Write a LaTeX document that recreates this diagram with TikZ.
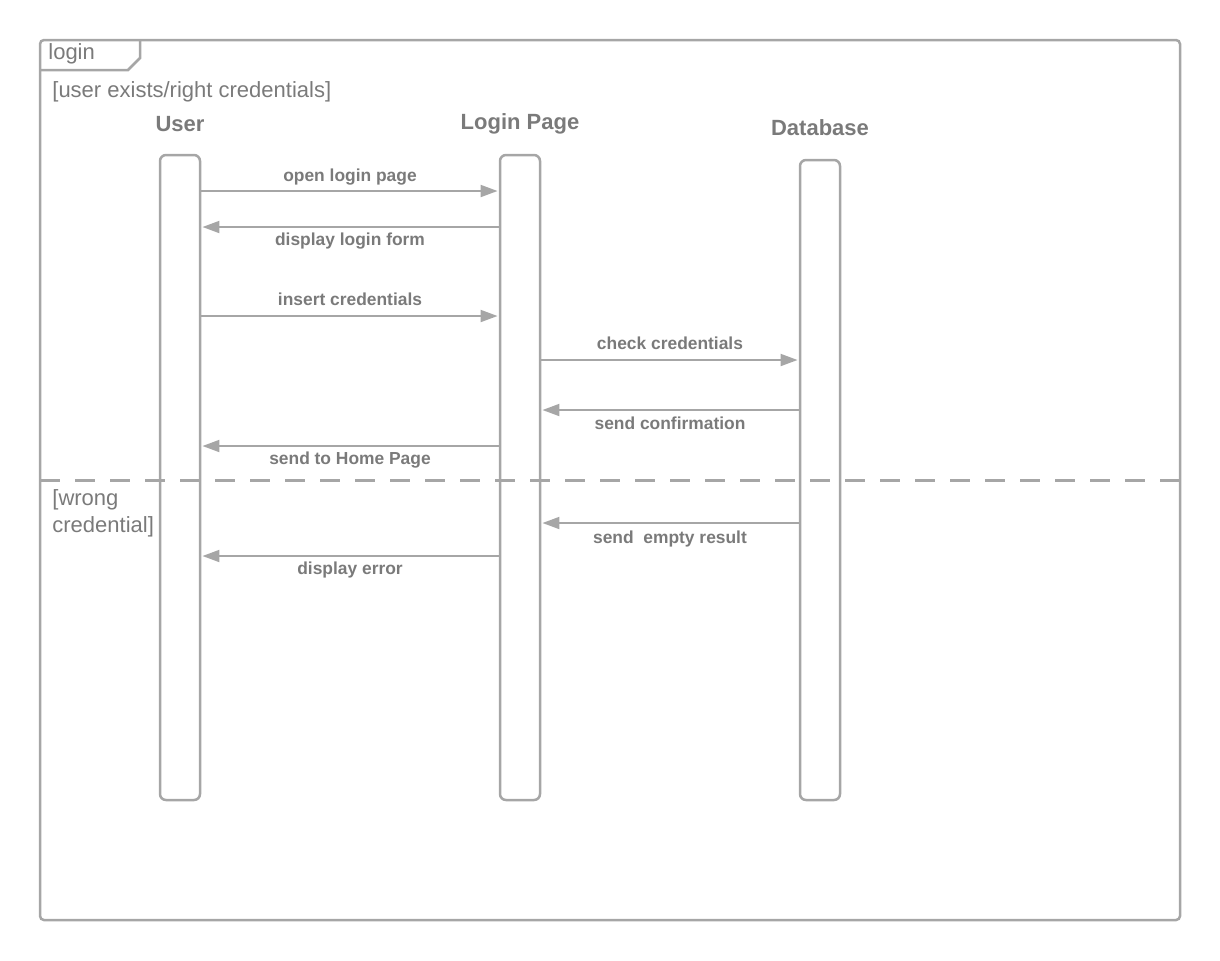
\documentclass[tikz,border=0pt]{standalone}
\usepackage{fontspec}
\setmainfont{Liberation Sans}
\usetikzlibrary{arrows.meta}
\definecolor{linegray}{HTML}{A6A6A6}
\definecolor{textgray}{HTML}{7A7A7A}
\begin{document}
\begin{tikzpicture}[x=0.5pt,y=-0.5pt,
    lifeline/.style={draw=linegray,line width=1.25pt,rounded corners=3pt,minimum width=20pt,inner sep=0pt},
    msg/.style={draw=linegray,line width=1pt,shorten >=0.6pt,-{Triangle[length=8.5pt,width=6pt]}},
    msglabel/.style={text=textgray,font=\fontsize{8.7}{10}\selectfont\bfseries},
    title/.style={text=textgray,font=\fontsize{11}{13}\selectfont\bfseries},
    guard/.style={text=textgray,font=\fontsize{11}{13.5}\selectfont,align=left,inner sep=0pt}]
  \useasboundingbox (0,0) rectangle (1220,960);
  % frame and its tab
  \draw[linegray,line width=1.25pt,rounded corners=2pt] (40,40) rectangle (1180,920);
  \draw[linegray,line width=1.25pt] (40,70) -- (128,70) -- (140,58) -- (140,40);
  \node[guard,anchor=west] (frame) at (48,54) {login};
  \node[guard,anchor=west] (guard1) at (52,92) {[user exists/right credentials]};
  \node[guard,anchor=north west] (guard2) at (52,489) {[wrong\\credential]};
  % participants
  \node[title] (usertitle) at (180,124) {User};
  \node[title] (pagetitle) at (520,124) {Login Page};
  \node[title] (dbtitle) at (820,128) {Database};
  \node[lifeline,minimum height=322.5pt] (user) at (180,477.5) {};
  \node[lifeline,minimum height=322.5pt] (page) at (520,477.5) {};
  \node[lifeline,minimum height=320pt] (db) at (820,480) {};
  % alternative separator
  \draw[linegray,line width=1.5pt,dash pattern=on 10pt off 7.5pt] (40,480) -- (1180,480);
  % messages
  \draw[msg] (user.east |- 0,191) -- (page.west |- 0,191) node[msglabel,midway,yshift=7pt] {open login page};
  \draw[msg] (page.west |- 0,227) -- (user.east |- 0,227) node[msglabel,midway,yshift=-7pt] {display login form};
  \draw[msg] (user.east |- 0,316) -- (page.west |- 0,316) node[msglabel,midway,yshift=8.5pt] {insert credentials};
  \draw[msg] (page.east |- 0,360) -- (db.west |- 0,360) node[msglabel,midway,yshift=8.5pt] {check credentials};
  \draw[msg] (db.west |- 0,410) -- (page.east |- 0,410) node[msglabel,midway,yshift=-6.5pt] {send confirmation};
  \draw[msg] (page.west |- 0,446) -- (user.east |- 0,446) node[msglabel,midway,yshift=-7pt] {send to Home Page};
  \draw[msg] (db.west |- 0,523) -- (page.east |- 0,523) node[msglabel,midway,yshift=-8pt] {send\ \ empty result};
  \draw[msg] (page.west |- 0,556) -- (user.east |- 0,556) node[msglabel,midway,yshift=-7pt] {display error};
\end{tikzpicture}
\end{document}
